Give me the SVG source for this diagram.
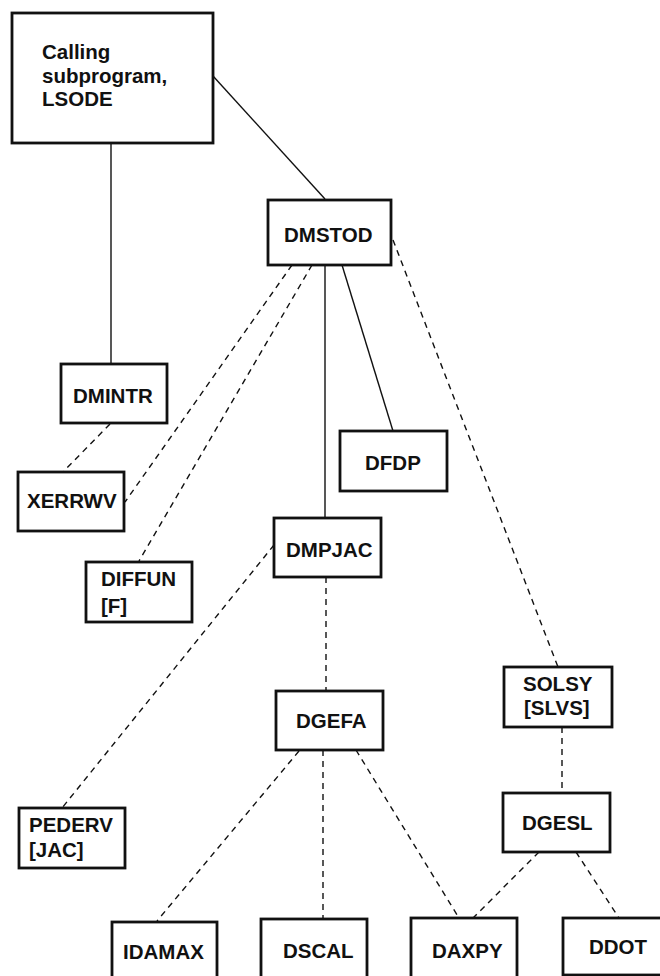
<svg xmlns="http://www.w3.org/2000/svg" width="660" height="976" viewBox="0 0 660 976">
<style>
.box{fill:#fff;stroke:#111;stroke-width:2.8}
.t{font-family:"Liberation Sans",Arial,sans-serif;font-weight:bold;font-size:20.5px;fill:#111}
.s{fill:none;stroke:#111;stroke-width:1.4}
.d{fill:none;stroke:#111;stroke-width:1.4;stroke-dasharray:6 5}
</style>
<rect width="660" height="976" fill="#fff"/>
<g id="connectors">
<line class="s" x1="213" y1="76" x2="325" y2="199"/>
<line class="s" x1="111" y1="143" x2="111" y2="364"/>
<line class="s" x1="325" y1="265" x2="325" y2="518"/>
<line class="s" x1="342" y1="265" x2="393" y2="431"/>
<line class="d" x1="393" y1="240" x2="558" y2="667"/>
<line class="d" x1="292" y1="265" x2="125" y2="502"/>
<line class="d" x1="312" y1="265" x2="139" y2="561"/>
<line class="d" x1="110" y1="424" x2="63" y2="472"/>
<line class="d" x1="274" y1="545" x2="62" y2="808"/>
<line class="d" x1="326" y1="577" x2="326" y2="691"/>
<line class="d" x1="562" y1="727" x2="562" y2="793"/>
<line class="d" x1="299" y1="751" x2="157" y2="921"/>
<line class="d" x1="323" y1="750" x2="323" y2="919"/>
<line class="d" x1="356" y1="750" x2="459" y2="918"/>
<line class="d" x1="539" y1="852" x2="473" y2="918"/>
<line class="d" x1="576" y1="852" x2="619" y2="918"/>
</g>
<g id="lsode"><rect class="box" x="12" y="13" width="201" height="130"/><text class="t" x="42" y="59">Calling</text><text class="t" x="42" y="83">subprogram,</text><text class="t" x="42" y="106">LSODE</text></g>
<g id="dmstod"><rect class="box" x="268" y="200" width="123" height="65"/><text class="t" x="284" y="242">DMSTOD</text></g>
<g id="dmintr"><rect class="box" x="61" y="364" width="106" height="59"/><text class="t" x="73" y="403">DMINTR</text></g>
<g id="dfdp"><rect class="box" x="340" y="431" width="107" height="60"/><text class="t" x="365" y="470">DFDP</text></g>
<g id="xerrwv"><rect class="box" x="18" y="472" width="106" height="59"/><text class="t" x="27" y="508">XERRWV</text></g>
<g id="dmpjac"><rect class="box" x="274" y="518" width="107" height="59"/><text class="t" x="286" y="557">DMPJAC</text></g>
<g id="diffun"><rect class="box" x="86" y="562" width="106" height="60"/><text class="t" x="101" y="586">DIFFUN</text><text class="t" x="101" y="613">[F]</text></g>
<g id="solsy"><rect class="box" x="504" y="667" width="108" height="60"/><text class="t" x="523" y="691">SOLSY</text><text class="t" x="524" y="715">[SLVS]</text></g>
<g id="dgefa"><rect class="box" x="276" y="691" width="107" height="59"/><text class="t" x="296" y="728">DGEFA</text></g>
<g id="pederv"><rect class="box" x="19" y="808" width="106" height="60"/><text class="t" x="29" y="832">PEDERV</text><text class="t" x="29" y="857">[JAC]</text></g>
<g id="dgesl"><rect class="box" x="503" y="793" width="107" height="59"/><text class="t" x="522" y="830">DGESL</text></g>
<g id="idamax"><rect class="box" x="112" y="922" width="105" height="70"/><text class="t" x="123" y="959">IDAMAX</text></g>
<g id="dscal"><rect class="box" x="261" y="919" width="106" height="70"/><text class="t" x="283" y="958">DSCAL</text></g>
<g id="daxpy"><rect class="box" x="411" y="918" width="106" height="70"/><text class="t" x="432" y="958">DAXPY</text></g>
<g id="ddot"><rect class="box" x="563" y="918" width="110" height="57"/><text class="t" x="589" y="954">DDOT</text></g>
</svg>
